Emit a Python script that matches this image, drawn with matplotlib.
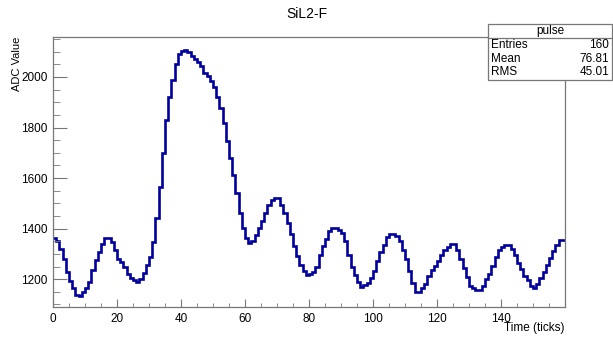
import numpy as np
import matplotlib
matplotlib.use('Agg')
import matplotlib.pyplot as plt
from matplotlib.patches import Rectangle
from matplotlib.lines import Line2D
from matplotlib.ticker import MultipleLocator

plt.rcParams['font.family'] = ['Liberation Sans', 'DejaVu Sans']

# ADC value per tick (160 bins)
adc = [1363, 1350, 1320, 1278, 1228, 1193, 1166, 1137, 1133, 1150,
       1166, 1190, 1236, 1275, 1307, 1341, 1363, 1363, 1348, 1315,
       1281, 1268, 1249, 1219, 1206, 1197, 1190, 1202, 1225, 1256,
       1289, 1348, 1442, 1565, 1699, 1830, 1922, 1988, 2051, 2091,
       2104, 2106, 2100, 2083, 2072, 2059, 2043, 2014, 2004, 1985,
       1962, 1922, 1876, 1817, 1745, 1679, 1613, 1541, 1462, 1403,
       1364, 1344, 1350, 1373, 1403, 1429, 1462, 1495, 1512, 1521,
       1521, 1495, 1462, 1423, 1377, 1331, 1291, 1258, 1232, 1215,
       1219, 1228, 1249, 1294, 1333, 1360, 1390, 1403, 1403, 1394,
       1381, 1350, 1294, 1249, 1215, 1189, 1170, 1176, 1186, 1206,
       1232, 1272, 1307, 1337, 1368, 1377, 1379, 1370, 1350, 1314,
       1278, 1232, 1183, 1149, 1149, 1166, 1179, 1212, 1236, 1252,
       1271, 1294, 1317, 1327, 1340, 1340, 1315, 1281, 1245, 1208,
       1175, 1166, 1157, 1157, 1173, 1199, 1219, 1252, 1289, 1317,
       1328, 1337, 1337, 1320, 1294, 1265, 1239, 1212, 1195, 1175,
       1166, 1179, 1206, 1228, 1258, 1285, 1311, 1337, 1354, 1354]
edges = np.arange(len(adc) + 1)

xticks = [0, 20, 40, 60, 80, 100, 120, 140]
title = "SiL2-F"
stats_name = "pulse"
stats_rows = [("Entries", "160"), ("Mean", "76.81"), ("RMS", "45.01")]

W, H = 613, 337
fig = plt.figure(figsize=(W / 100, H / 100), dpi=100)
ax = fig.add_axes([53 / W, 1 - 307 / H, (565 - 53) / W, (307 - 37) / H])

ax.stairs(adc, edges, baseline=None, color='#00009c', lw=1.9)
ax.set_xlim(0, 160)
ax.set_ylim(1090, 2158)

frame_col = '#777777'
for s in ax.spines.values():
    s.set_color(frame_col)
    s.set_linewidth(0.9)

ax.set_xticks(xticks)
ax.xaxis.set_minor_locator(MultipleLocator(5))
ax.yaxis.set_major_locator(MultipleLocator(200))
ax.yaxis.set_minor_locator(MultipleLocator(50))
ax.tick_params(axis='both', which='both', direction='in', color=frame_col,
               labelsize=8.5, top=False, right=False)
ax.tick_params(axis='x', which='major', length=6, pad=4)
ax.tick_params(axis='x', which='minor', length=3)
ax.tick_params(axis='y', which='major', length=10, pad=4)
ax.tick_params(axis='y', which='minor', length=5)

fig.text(307 / W, 1 - 14 / H, title, ha='center', va='center', fontsize=10)
fig.text(564 / W, 1 - 328 / H, "Time (ticks)", ha='right', va='center', fontsize=8.5)
fig.text(17 / W, 1 - 37 / H, "ADC Value", ha='center', va='top', rotation=90, fontsize=8)

# stats box
bx0, bx1, by0, by1, hy = 488, 612, 24, 80, 38
fig.patches.append(Rectangle((bx0 / W, 1 - by1 / H), (bx1 - bx0) / W, (by1 - by0) / H,
                             transform=fig.transFigure, facecolor='white',
                             edgecolor=frame_col, lw=0.9, zorder=5))
fig.lines.append(Line2D([bx0 / W, bx1 / W], [1 - hy / H, 1 - hy / H],
                        transform=fig.transFigure, color=frame_col, lw=0.9, zorder=6))
fig.text((bx0 + bx1) / 2 / W, 1 - 31 / H, stats_name, ha='center', va='center',
         fontsize=8.5, zorder=7)
for i, (k, v) in enumerate(stats_rows):
    yy = 1 - (45 + 13.5 * i) / H
    fig.text((bx0 + 3) / W, yy, k, ha='left', va='center', fontsize=8.5, zorder=7)
    fig.text((bx1 - 3) / W, yy, v, ha='right', va='center', fontsize=8.5, zorder=7)

fig.savefig('out.png', dpi=100)
